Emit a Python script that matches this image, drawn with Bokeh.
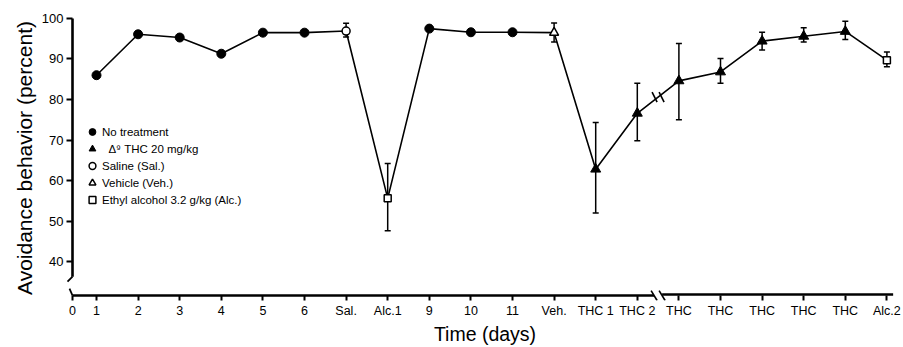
from bokeh.plotting import figure
from bokeh.models import (Range1d, FixedTicker, ColumnDataSource, Whisker, TeeHead,
                          Legend, LegendItem)
from bokeh.embed import file_html
from bokeh.resources import INLINE

# ---------------- data ----------------
x_labels = ["1", "2", "3", "4", "5", "6", "Sal.", "Alc.1", "9", "10", "11", "Veh.",
            "THC 1", "THC 2", "THC", "THC", "THC", "THC", "THC", "Alc.2"]
days = list(range(1, len(x_labels) + 1))
avoidance = [86.0, 96.1, 95.3, 91.3, 96.5, 96.5, 96.9, 55.6, 97.5, 96.6, 96.6, 96.5,
             62.8, 76.6, 84.6, 86.8, 94.4, 95.6, 96.8, 89.7]
treatment = ["none"] * 6 + ["sal", "alc", "none", "none", "none", "veh"] + ["thc"] * 7 + ["alc"]
err_lower = [None] * 6 + [95.4, 47.6, None, None, None, 94.2,
                          52.0, 69.8, 75.0, 84.0, 92.2, 94.2, 94.8, 88.1]
err_upper = [None] * 6 + [98.8, 64.2, None, None, None, 98.9,
                          74.3, 84.0, 93.8, 90.1, 96.6, 97.7, 99.3, 91.7]
y_ticks = [40, 50, 60, 70, 80, 90, 100]
legend_labels = {
    "none": "No treatment",
    "thc": "\u00a0\u00a0\u0394\u2079 THC 20 mg/kg",
    "sal": "Saline (Sal.)",
    "veh": "Vehicle (Veh.)",
    "alc": "Ethyl alcohol 3.2 g/kg (Alc.)",
}

# ---------------- layout constants ----------------
W, H = 903, 347
BORDER_L, BORDER_T, BORDER_B = 66, 15, 45
X_START, X_END_RANGE = 0.2788, 20.399
Y_START, Y_END_RANGE = 30.39, 100.735
PX_X = (W - BORDER_L) / (X_END_RANGE - X_START)       # pixels per x unit
PX_Y = (H - BORDER_T - BORDER_B) / (Y_END_RANGE - Y_START)  # pixels per y unit
X0 = 1 - 24 / PX_X          # axis origin
Y_BASE = 31.62              # x-axis line level
Y_AXIS_LOW = 36.27          # bottom of y-axis line before the break
X_AXIS_END = 20.15
X_BREAK = 14.5
FONT = "Liberation Sans"


def dx(px):
    return px / PX_X


def dy(px):
    return px / PX_Y


p = figure(width=W, height=H, output_backend="svg", toolbar_location=None,
           x_range=Range1d(X_START, X_END_RANGE), y_range=Range1d(Y_START, Y_END_RANGE),
           min_border_left=BORDER_L, min_border_right=0, min_border_top=BORDER_T,
           min_border_bottom=BORDER_B)
p.outline_line_color = None
p.grid.visible = False
p.background_fill_color = "white"
p.border_fill_color = "white"

# ---------------- axes (ticks + labels from Bokeh, lines drawn below) ----------------
xa = p.xaxis[0]
xa.ticker = FixedTicker(ticks=[X0] + days)
overrides = {X0: "0"}
for d, lab in zip(days, x_labels):
    overrides[d] = lab
xa.major_label_overrides = overrides
xa.axis_line_color = None
xa.major_tick_in = 5
xa.major_tick_out = 0
xa.major_tick_line_width = 2
xa.minor_tick_line_color = None
xa.major_label_standoff = 3
xa.major_label_text_font = FONT
xa.major_label_text_font_size = "12.5px"
xa.major_label_text_color = "black"
xa.axis_label = "Time (days)"
xa.axis_label_standoff = 2
xa.axis_label_text_font = FONT
xa.axis_label_text_font_size = "19.5px"
xa.axis_label_text_font_style = "normal"
xa.axis_label_text_color = "black"

ya = p.yaxis[0]
ya.ticker = FixedTicker(ticks=y_ticks)
ya.axis_line_color = None
ya.major_tick_in = 6
ya.major_tick_out = 0
ya.major_tick_line_width = 2
ya.minor_tick_line_color = None
ya.major_label_standoff = 3
ya.major_label_text_font = FONT
ya.major_label_text_font_size = "13px"
ya.major_label_text_color = "black"
ya.axis_label = "Avoidance behavior (percent)"
ya.axis_label_standoff = 3
ya.axis_label_text_font = FONT
ya.axis_label_text_font_size = "21px"
ya.axis_label_text_font_style = "normal"
ya.axis_label_text_color = "black"

# axis lines with breaks
AX_W = 2.6
p.segment(x0=[X0], y0=[Y_AXIS_LOW], x1=[X0], y1=[max(y_ticks)], line_width=AX_W, color="black")
p.segment(x0=[X0], y0=[Y_AXIS_LOW], x1=[X0 - dx(5)], y1=[Y_AXIS_LOW - dy(5)], line_width=1.8, color="black")
p.segment(x0=[X0 - dx(3)], y0=[Y_BASE + dy(7)], x1=[X0], y1=[Y_BASE], line_width=1.8, color="black")
gap = dx(4)
p.segment(x0=[X0, X_BREAK + gap], y0=[Y_BASE, Y_BASE + dy(1)],
          x1=[X_BREAK - gap, X_AXIS_END], y1=[Y_BASE, Y_BASE + dy(1)],
          line_width=AX_W, color="black")
p.segment(x0=[X_BREAK - gap - dx(3), X_BREAK + gap - dx(3)], y0=[Y_BASE + dy(5)] * 2,
          x1=[X_BREAK - gap + dx(3), X_BREAK + gap + dx(3)], y1=[Y_BASE - dy(5)] * 2,
          line_width=1.6, color="black")

# ---------------- data ----------------
p.line(days, avoidance, line_width=1.6, color="black")

# break marks on data line
mid_y = (avoidance[13] + avoidance[14]) / 2
p.segment(x0=[X_BREAK - dx(6), X_BREAK + dx(1)], y0=[mid_y + dy(5)] * 2,
          x1=[X_BREAK - dx(1), X_BREAK + dx(6)], y1=[mid_y - dy(5)] * 2,
          line_width=1.6, color="black")

# error bars
eb = ColumnDataSource(dict(
    x=[d for d, lo in zip(days, err_lower) if lo is not None],
    lower=[lo for lo in err_lower if lo is not None],
    upper=[up for up in err_upper if up is not None],
))
wh = Whisker(source=eb, base="x", lower="lower", upper="upper", dimension="height",
             line_width=1.5, line_color="black", level="underlay",
             upper_head=TeeHead(size=6, line_width=1.5, line_color="black"),
             lower_head=TeeHead(size=6, line_width=1.5, line_color="black"))
p.add_layout(wh)


def group(key):
    xs = [d for d, t in zip(days, treatment) if t == key]
    ys = [v for v, t in zip(avoidance, treatment) if t == key]
    return ColumnDataSource(dict(x=xs, y=ys))


r_none = p.scatter("x", "y", source=group("none"), marker="circle", size=9,
                   fill_color="black", line_color="black")
r_thc = p.scatter("x", "y", source=group("thc"), marker="triangle", size=10,
                  fill_color="black", line_color="black")
r_sal = p.scatter("x", "y", source=group("sal"), marker="circle", size=8,
                  fill_color="white", line_color="black", line_width=1.5)
r_veh = p.scatter("x", "y", source=group("veh"), marker="triangle", size=9,
                  fill_color="white", line_color="black", line_width=1.5)
r_alc = p.scatter("x", "y", source=group("alc"), marker="square", size=7,
                  fill_color="white", line_color="black", line_width=1.5)

legend = Legend(items=[
    LegendItem(label=legend_labels["none"], renderers=[r_none]),
    LegendItem(label=legend_labels["thc"], renderers=[r_thc]),
    LegendItem(label=legend_labels["sal"], renderers=[r_sal]),
    LegendItem(label=legend_labels["veh"], renderers=[r_veh]),
    LegendItem(label=legend_labels["alc"], renderers=[r_alc]),
], location=(17, 92), glyph_width=18, glyph_height=17, label_height=17, spacing=0,
    padding=0, margin=0, label_standoff=1, border_line_color=None,
    background_fill_alpha=0, label_text_font=FONT, label_text_font_size="11.5px",
    label_text_color="black")
p.add_layout(legend)

open("out.html", "w").write(file_html(p, INLINE))
